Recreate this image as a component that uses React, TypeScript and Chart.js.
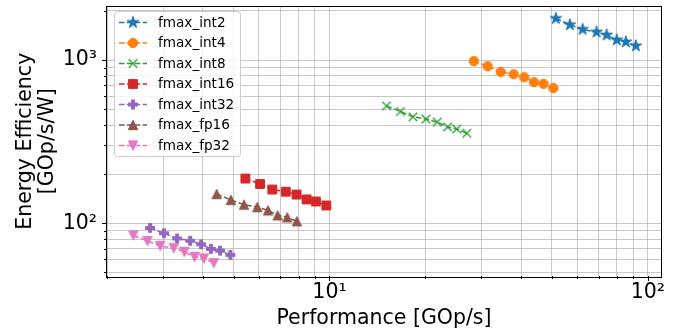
import React, { useEffect, useRef } from 'react';
import { Chart, registerables } from 'chart.js';

Chart.register(...registerables);

// ---------- data ----------
const seriesNames = ['fmax_int2', 'fmax_int4', 'fmax_int8', 'fmax_int16', 'fmax_int32', 'fmax_fp16', 'fmax_fp32'];
const seriesColors = ['#1f77b4', '#ff7f0e', '#2ca02c', '#d62728', '#9467bd', '#8c564b', '#e377c2'];
const seriesMarkers = ['star', 'circle', 'x', 'square', 'plus', 'triUp', 'triDown'];

const int2Perf = [51.4, 56.9, 62.4, 69.0, 74.2, 79.9, 85.3, 91.7];
const int2Eff = [1797, 1646, 1542, 1484, 1423, 1327, 1291, 1221];
const int4Perf = [28.4, 31.4, 34.5, 37.9, 40.9, 43.9, 47.0, 50.5];
const int4Eff = [986, 916, 846, 819, 785, 732, 715, 674];
const int8Perf = [15.1, 16.7, 18.3, 20.1, 21.8, 23.5, 25.1, 27.0];
const int8Eff = [524, 484, 449, 435, 417, 389, 378, 356];
const int16Perf = [5.44, 6.05, 6.61, 7.29, 7.88, 8.47, 9.06, 9.77];
const int16Eff = [188, 174, 161, 156, 150, 140, 136, 128.5];
const int32Perf = [2.73, 3.02, 3.32, 3.65, 3.95, 4.24, 4.53, 4.88];
const int32Eff = [93.6, 86.9, 80.7, 78.1, 74.3, 69.6, 67.9, 64.0];
const fp16Perf = [4.42, 4.9, 5.39, 5.93, 6.41, 6.87, 7.37, 7.9];
const fp16Eff = [151, 139, 130, 125.6, 120, 111.8, 108.7, 102.8];
const fp32Perf = [2.42, 2.68, 2.94, 3.24, 3.5, 3.77, 4.03, 4.33];
const fp32Eff = [84.2, 77.8, 72.6, 70.3, 66.7, 62.2, 60.8, 57.0];

const seriesPerf = [int2Perf, int4Perf, int8Perf, int16Perf, int32Perf, fp16Perf, fp32Perf];
const seriesEff = [int2Eff, int4Eff, int8Eff, int16Eff, int32Eff, fp16Eff, fp32Eff];

const xTickValues = [2, 3, 4, 5, 6, 7, 8, 9, 10, 20, 30, 40, 50, 60, 70, 80, 90, 100];
const yTickValues = [50, 60, 70, 80, 90, 100, 200, 300, 400, 500, 600, 700, 800, 900, 1000, 2000];
const xMajorLabels: Record<number, string> = { 10: '10\u00B9', 100: '10\u00B2' };
const yMajorLabels: Record<number, string> = { 100: '10\u00B2', 1000: '10\u00B3' };

const xTitle = 'Performance [GOp/s]';
const yTitle = ['Energy Efficiency', '[GOp/s/W]'];

const FONT = '"DejaVu Sans", sans-serif';
const BIG = 20.5;

function makeMarker(shape: string, color: string): HTMLCanvasElement {
  const S = 18;
  const c = document.createElement('canvas');
  c.width = S;
  c.height = S;
  const ctx = c.getContext('2d')!;
  ctx.translate(S / 2, S / 2);
  ctx.fillStyle = color;
  ctx.strokeStyle = color;
  ctx.lineWidth = 1;
  ctx.lineJoin = 'miter';
  ctx.beginPath();
  if (shape === 'circle') {
    ctx.arc(0, 0, 4.7, 0, Math.PI * 2);
  } else if (shape === 'square') {
    ctx.rect(-4.4, -4.4, 8.8, 8.8);
  } else if (shape === 'triUp') {
    ctx.moveTo(0, -4.7);
    ctx.lineTo(-4.7, 4.7);
    ctx.lineTo(4.7, 4.7);
    ctx.closePath();
  } else if (shape === 'triDown') {
    ctx.moveTo(0, 4.7);
    ctx.lineTo(-4.7, -4.7);
    ctx.lineTo(4.7, -4.7);
    ctx.closePath();
  } else if (shape === 'star') {
    const ro = 6.2, ri = ro * 0.381966;
    for (let i = 0; i < 10; i++) {
      const r = i % 2 === 0 ? ro : ri;
      const a = -Math.PI / 2 + (i * Math.PI) / 5;
      const px = r * Math.cos(a), py = r * Math.sin(a);
      if (i === 0) ctx.moveTo(px, py); else ctx.lineTo(px, py);
    }
    ctx.closePath();
  } else if (shape === 'plus') {
    const h = 4.5, w = 1.5;
    ctx.moveTo(-w, -h); ctx.lineTo(w, -h); ctx.lineTo(w, -w); ctx.lineTo(h, -w);
    ctx.lineTo(h, w); ctx.lineTo(w, w); ctx.lineTo(w, h); ctx.lineTo(-w, h);
    ctx.lineTo(-w, w); ctx.lineTo(-h, w); ctx.lineTo(-h, -w); ctx.lineTo(-w, -w);
    ctx.closePath();
  } else if (shape === 'x') {
    const h = 4.3;
    ctx.moveTo(-h, -h); ctx.lineTo(h, h);
    ctx.moveTo(h, -h); ctx.lineTo(-h, h);
    ctx.lineWidth = 1.3;
    ctx.stroke();
    return c;
  }
  ctx.fill();
  ctx.stroke();
  return c;
}

export default function App() {
  const canvasRef = useRef<HTMLCanvasElement | null>(null);

  useEffect(() => {
    const canvas = canvasRef.current;
    if (!canvas) return;
    const markers = seriesNames.map((_, i) => makeMarker(seriesMarkers[i], seriesColors[i]));

    const datasets = seriesNames.map((name, i) => ({
      label: name,
      data: seriesPerf[i].map((x, j) => ({ x, y: seriesEff[i][j] })),
      showLine: true,
      borderColor: seriesColors[i],
      backgroundColor: seriesColors[i],
      borderWidth: 1.5,
      borderDash: [5.5, 2.4],
      pointStyle: markers[i] as any,
      pointRadius: 5,
      pointHoverRadius: 5,
      tension: 0,
    }));

    const overlayPlugin = {
      id: 'overlay',
      afterDraw(chart: any) {
        const { ctx, chartArea: a, scales } = chart;
        ctx.save();
        ctx.strokeStyle = '#000';
        ctx.setLineDash([]);
        // tick marks
        ctx.lineWidth = 1;
        for (const v of xTickValues) {
          const px = Math.round(scales.x.getPixelForValue(v)) + 0.5;
          if (px < a.left - 1 || px > a.right + 1) continue;
          const major = v === 10 || v === 100;
          ctx.beginPath();
          ctx.moveTo(px, a.bottom);
          ctx.lineTo(px, a.bottom + (major ? 5 : 3));
          ctx.stroke();
        }
        for (const v of yTickValues) {
          const py = Math.round(scales.y.getPixelForValue(v)) + 0.5;
          if (py < a.top - 1 || py > a.bottom + 1) continue;
          const major = v === 100 || v === 1000;
          ctx.beginPath();
          ctx.moveTo(a.left, py);
          ctx.lineTo(a.left - (major ? 5 : 3), py);
          ctx.stroke();
        }
        // frame
        ctx.strokeRect(Math.round(a.left) - 0.5, Math.round(a.top) - 0.5, Math.round(a.right - a.left) + 1, Math.round(a.bottom - a.top) + 1);

        // legend
        const lx = 114.5, ly = 11.5, lw = 126, lh = 145, r = 3;
        ctx.beginPath();
        ctx.moveTo(lx + r, ly);
        ctx.lineTo(lx + lw - r, ly);
        ctx.arcTo(lx + lw, ly, lx + lw, ly + r, r);
        ctx.lineTo(lx + lw, ly + lh - r);
        ctx.arcTo(lx + lw, ly + lh, lx + lw - r, ly + lh, r);
        ctx.lineTo(lx + r, ly + lh);
        ctx.arcTo(lx, ly + lh, lx, ly + lh - r, r);
        ctx.lineTo(lx, ly + r);
        ctx.arcTo(lx, ly, lx + r, ly, r);
        ctx.closePath();
        ctx.fillStyle = 'rgba(255,255,255,0.8)';
        ctx.fill();
        ctx.strokeStyle = '#cccccc';
        ctx.lineWidth = 1;
        ctx.stroke();

        ctx.font = '13.6px ' + FONT;
        ctx.textBaseline = 'middle';
        ctx.textAlign = 'left';
        seriesNames.forEach((name, i) => {
          const y = 22.5 + i * 20.5;
          ctx.strokeStyle = seriesColors[i];
          ctx.lineWidth = 1.5;
          ctx.setLineDash([5.5, 2.4]);
          ctx.beginPath();
          ctx.moveTo(119, y);
          ctx.lineTo(147, y);
          ctx.stroke();
          ctx.setLineDash([]);
          const m = markers[i];
          ctx.drawImage(m, 133 - m.width / 2, y - m.height / 2);
          ctx.fillStyle = '#000';
          ctx.fillText(name, 158, y + 0.5);
        });
        ctx.restore();
      },
    };

    const gridColor = 'rgba(176,176,176,0.7)';

    const chart = new Chart(canvas, {
      type: 'scatter',
      data: { datasets } as any,
      options: {
        responsive: false,
        animation: false,
        events: [],
        layout: { padding: { top: 4, right: 28, left: 0, bottom: 0 } },
        plugins: { legend: { display: false }, tooltip: { enabled: false } },
        scales: {
          x: {
            type: 'logarithmic',
            position: 'bottom',
            min: 2,
            max: 110,
            afterBuildTicks: (s: any) => {
              s.ticks = xTickValues.map((v) => ({ value: v }));
            },
            afterFit: (s: any) => {
              s.height = 57;
              s.paddingLeft = 0;
              s.paddingRight = 0;
            },
            ticks: {
              autoSkip: false,
              maxRotation: 0,
              minRotation: 0,
              color: '#000',
              padding: 4,
              font: { family: FONT, size: BIG },
              callback: (v: any) => xMajorLabels[Math.round(Number(v))] ?? '',
            },
            grid: { color: gridColor, lineWidth: 1, drawTicks: false },
            border: { display: false },
            title: {
              display: true,
              text: xTitle,
              color: '#000',
              font: { family: FONT, size: BIG, lineHeight: 1.2 },
              padding: { top: 0, bottom: 2.5 },
            },
          },
          y: {
            type: 'logarithmic',
            position: 'left',
            min: 47.5,
            max: 2130,
            afterBuildTicks: (s: any) => {
              s.ticks = yTickValues.map((v) => ({ value: v }));
            },
            afterFit: (s: any) => {
              s.width = 107;
              s.paddingTop = 0;
              s.paddingBottom = 0;
            },
            ticks: {
              autoSkip: false,
              color: '#000',
              padding: 10,
              font: { family: FONT, size: BIG },
              callback: (v: any) => yMajorLabels[Math.round(Number(v))] ?? '',
            },
            grid: { color: gridColor, lineWidth: 1, drawTicks: false },
            border: { display: false },
            title: {
              display: true,
              text: yTitle,
              color: '#000',
              font: { family: FONT, size: BIG, lineHeight: 1.04 },
              padding: { top: 15.5, bottom: 0 },
            },
          },
        },
      },
      plugins: [overlayPlugin],
    } as any);

    return () => chart.destroy();
  }, []);

  return (
    <div style={{ position: 'fixed', left: 0, top: 0, width: 689, height: 333, background: '#fff' }}>
      <canvas ref={canvasRef} width={689} height={333} style={{ display: 'block' }} />
    </div>
  );
}
